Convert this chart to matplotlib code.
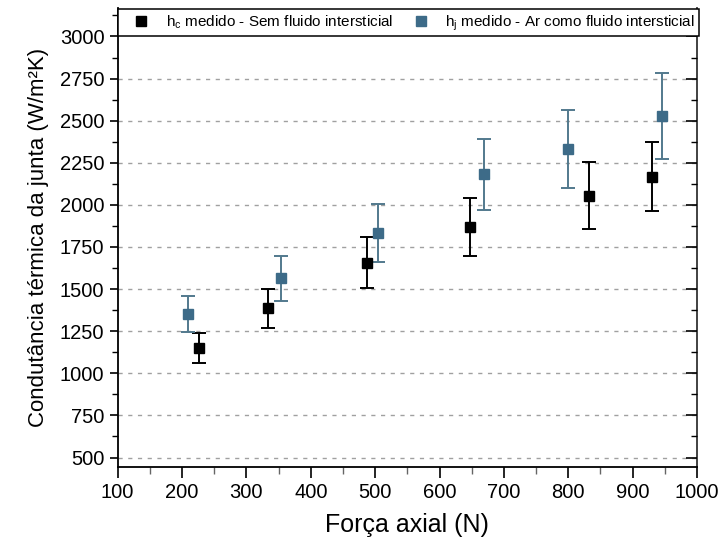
import numpy as np
import matplotlib
matplotlib.use("Agg")
import matplotlib.pyplot as plt
from matplotlib.ticker import MultipleLocator
from matplotlib.lines import Line2D

plt.rcParams["font.family"] = ["Liberation Sans", "DejaVu Sans"]
plt.rcParams["mathtext.fontset"] = "custom"
plt.rcParams["mathtext.rm"] = "Liberation Sans"

# h_c medido - sem fluido intersticial
forca_c = [226, 333, 488, 648, 832, 930]
h_c = [1150, 1386, 1657, 1870, 2055, 2167]
err_c = [90, 117, 151, 171, 197, 205]

# h_j medido - ar como fluido intersticial
forca_j = [210, 353, 505, 669, 800, 946]
h_j = [1352, 1564, 1835, 2182, 2332, 2528]
err_j = [108, 134, 172, 212, 233, 258]

y_ticks = [500, 750, 1000, 1250, 1500, 1750, 2000, 2250, 2500, 2750, 3000]
x_ticks = [100, 200, 300, 400, 500, 600, 700, 800, 900, 1000]

lbl_c = r"h$_\mathrm{c}$ medido - Sem fluido intersticial"
lbl_j = r"h$_\mathrm{j}$ medido - Ar como fluido intersticial"

cor_j = "#3d6b88"
cor_j_err = "#52798d"

fig = plt.figure(figsize=(7.22, 5.45), dpi=100)
ax = fig.add_axes([0.163, 0.1431, 0.8024, 0.8422])

ax.errorbar(forca_c, h_c, yerr=err_c, fmt="s", color="black", ecolor="black",
            markersize=7.5, elinewidth=1.4, capsize=4.7, capthick=1.4)
ax.errorbar(forca_j, h_j, yerr=err_j, fmt="s", color=cor_j, ecolor=cor_j_err,
            markersize=7.5, elinewidth=1.4, capsize=4.7, capthick=1.4)

ax.set_xlim(100, 1000)
ax.set_ylim(443.6, 3169)
ax.set_xticks(x_ticks)
ax.set_yticks(y_ticks)
ax.xaxis.set_minor_locator(MultipleLocator(50))
ax.yaxis.set_minor_locator(MultipleLocator(125))

for yv in y_ticks[:-1]:
    ax.axhline(yv, color="#a0a0a0", lw=1.0, ls=(0, (3, 4)), zorder=0)

ax.tick_params(axis="both", which="major", labelsize=14.5, width=1.2)
ax.tick_params(axis="y", which="major", direction="out", length=6)
ax.tick_params(axis="y", which="minor", direction="out", length=4, width=1.0)
ax.tick_params(axis="x", which="major", direction="out", length=8)
ax.tick_params(axis="x", which="minor", direction="out", length=5, width=1.0, color="#666666")
ax.tick_params(right=False, top=False)

for s in ["left", "bottom", "right"]:
    ax.spines[s].set_linewidth(1.3)
ax.spines["right"].set_color("#333333")
ax.spines["top"].set_visible(False)

ax2 = ax.twinx()
ax2.set_ylim(ax.get_ylim())
ax2.set_yticks(y_ticks)
ax2.yaxis.set_minor_locator(MultipleLocator(125))
ax2.tick_params(axis="y", which="major", direction="in", length=8, width=1.2, labelright=False)
ax2.tick_params(axis="y", which="minor", direction="in", length=4, width=1.0)
for s in ax2.spines.values():
    s.set_visible(False)

ax.set_xlabel("Força axial (N)", fontsize=18, labelpad=8)
ax.set_ylabel("Condutância térmica da junta (W/m²K)", fontsize=16, labelpad=8)

handles = [Line2D([], [], marker="s", ls="none", color="black", markersize=7),
           Line2D([], [], marker="s", ls="none", color=cor_j, markersize=7)]
y0 = (3000 - 443.6) / (3169 - 443.6)
leg = ax2.legend(handles, [lbl_c, lbl_j], loc="lower left",
                 bbox_to_anchor=(0, y0, 1.003, 1 - y0), mode="expand",
                 ncol=2, fontsize=11, frameon=True, fancybox=False, framealpha=1,
                 edgecolor="black", borderaxespad=0, handletextpad=0.3,
                 columnspacing=1.2, handlelength=2.6, borderpad=0.25)
leg.get_frame().set_linewidth(1.1)

fig.savefig("out.png", dpi=100)
